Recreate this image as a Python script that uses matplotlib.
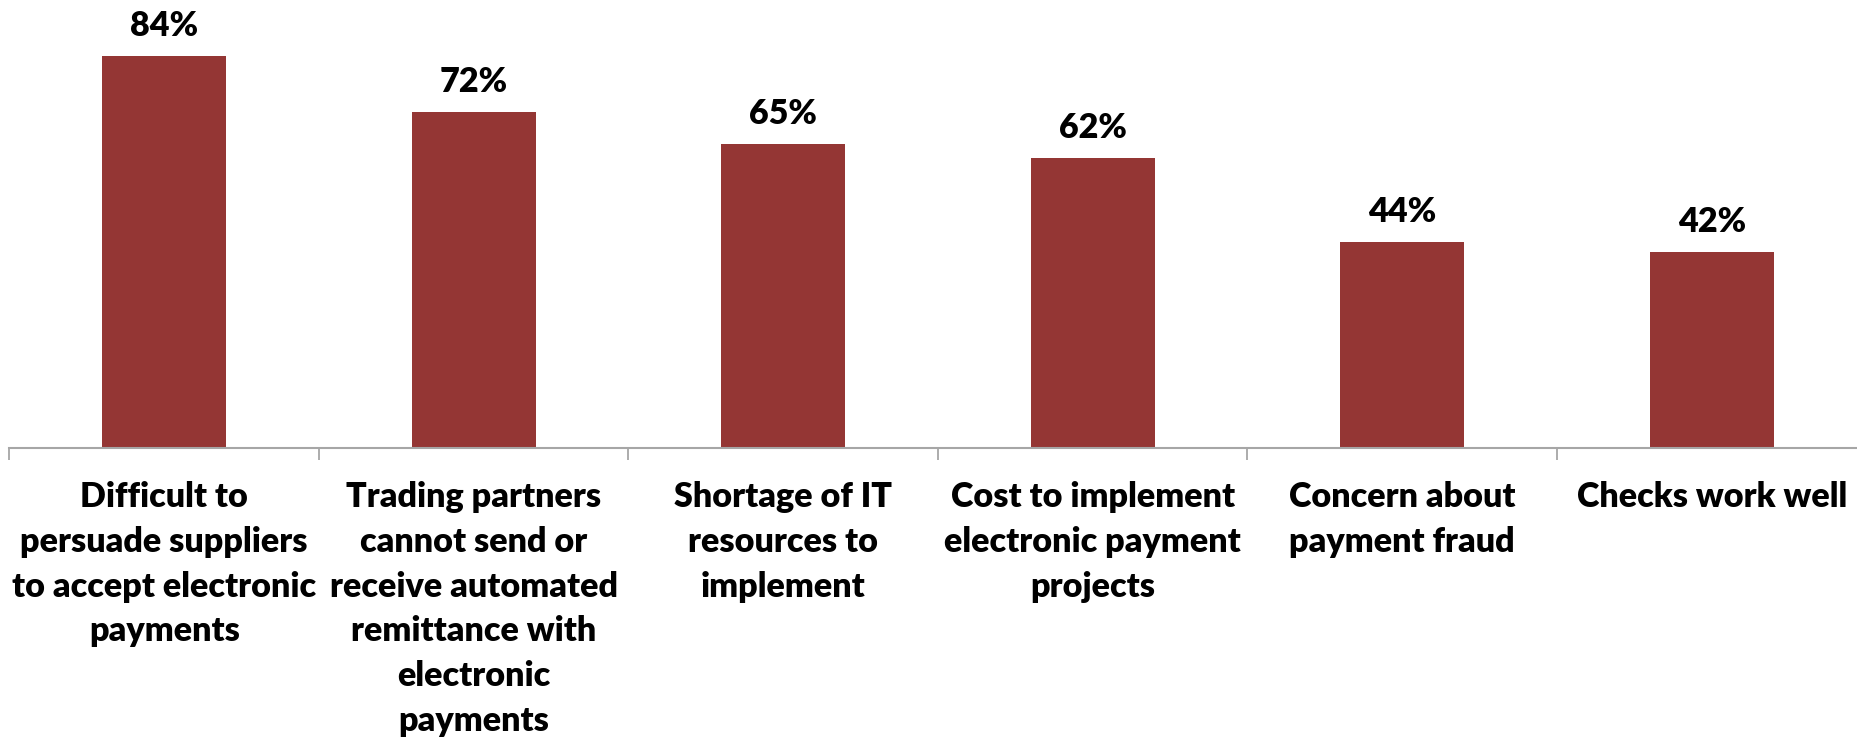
import matplotlib
matplotlib.use("Agg")
import matplotlib.pyplot as plt
from matplotlib.transforms import blended_transform_factory
import numpy as np

categories = [
    "Difficult to\npersuade suppliers\nto accept electronic\npayments",
    "Trading partners\ncannot send or\nreceive automated\nremittance with\nelectronic\npayments",
    "Shortage of IT\nresources to\nimplement",
    "Cost to implement\nelectronic payment\nprojects",
    "Concern about\npayment fraud",
    "Checks work well",
]
values = [84, 72, 65, 62, 44, 42]
value_labels = ["84%", "72%", "65%", "62%", "44%", "42%"]

BAR_COLOR = "#943634"
AXIS_COLOR = "#a6a6a6"
FONT = "Lato"
WEIGHT = "heavy"

fig = plt.figure(figsize=(18.57, 7.41), dpi=100)
ax = fig.add_axes([0.0051, 0.396, 1.0, 0.604])

x = np.arange(len(categories))
ax.bar(x, values, width=0.4, color=BAR_COLOR, zorder=2)

ax.set_xlim(-0.5, len(categories) - 0.5)
ax.set_ylim(0, 95.95)

for xi, v, lab in zip(x, values, value_labels):
    ax.annotate(lab, (xi, v), xytext=(0, 10), textcoords="offset points",
                ha="center", va="bottom", fontsize=24.6, fontweight=WEIGHT,
                family=FONT, color="black")

# category labels below the axis
trans = blended_transform_factory(ax.transData, ax.transAxes)
for xi, cat in zip(x, categories):
    ax.text(xi, -0.075, cat, transform=trans, ha="center", va="top",
            fontsize=24.6, fontweight=WEIGHT, family=FONT, color="black",
            linespacing=1.49)

# axis styling
for side in ("top", "right", "left"):
    ax.spines[side].set_visible(False)
ax.spines["bottom"].set_color(AXIS_COLOR)
ax.spines["bottom"].set_linewidth(1.5)
ax.set_yticks([])
ax.set_xticks([])
ax.set_xticks(np.arange(-0.5, len(categories) + 0.5, 1.0), minor=True)
ax.tick_params(axis="x", which="minor", direction="out", length=8.5,
               width=1.3, color=AXIS_COLOR, labelbottom=False)

fig.savefig("out.png", dpi=100, facecolor="white")
